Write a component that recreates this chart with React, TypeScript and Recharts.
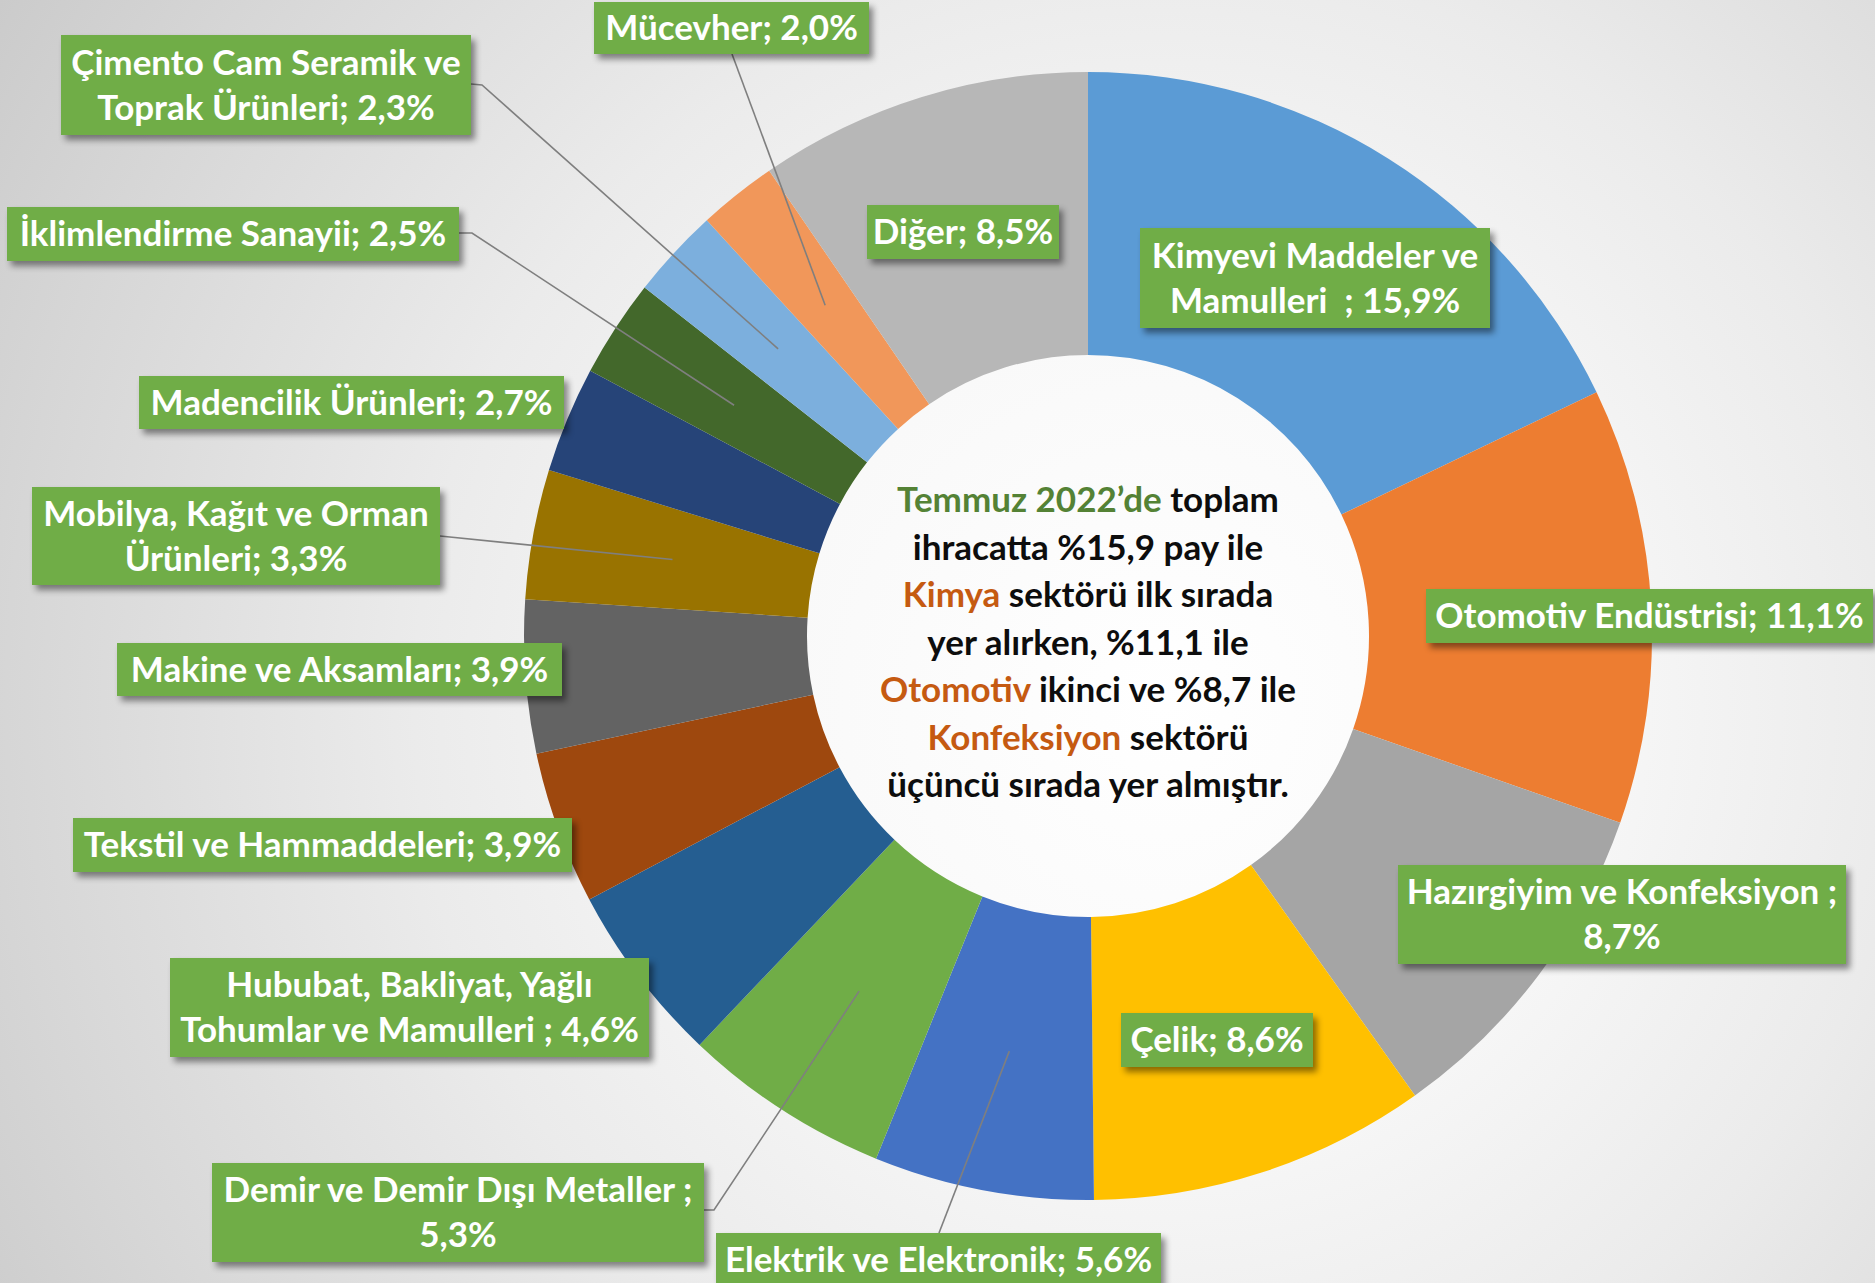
import React from "react";
import { PieChart, Pie, Cell, Label } from "recharts";

// sectors, clockwise from 12 o'clock
const SECTORS = [
  "Kimyevi Maddeler ve Mamulleri  ",
  "Otomotiv Endüstrisi",
  "Hazırgiyim ve Konfeksiyon ",
  "Çelik",
  "Elektrik ve Elektronik",
  "Demir ve Demir Dışı Metaller ",
  "Hububat, Bakliyat, Yağlı Tohumlar ve Mamulleri ",
  "Tekstil ve Hammaddeleri",
  "Makine ve Aksamları",
  "Mobilya, Kağıt ve Orman Ürünleri",
  "Madencilik Ürünleri",
  "İklimlendirme Sanayii",
  "Çimento Cam Seramik ve Toprak Ürünleri",
  "Mücevher",
  "Diğer",
];
const SHARES = [15.9, 11.1, 8.7, 8.6, 5.6, 5.3, 4.6, 3.9, 3.9, 3.3, 2.7, 2.5, 2.3, 2.0, 8.5];
const COLORS = [
  "#5B9BD5", "#ED7D31", "#A5A5A5", "#FFC000", "#4472C4",
  "#70AD47", "#255E91", "#9E480E", "#636363", "#997300",
  "#264478", "#43682B", "#7CAFDD", "#F1975A", "#B7B7B7",
];

// how many words go on the first line of each label (0 = one line)
const FIRST_LINE_WORDS = [3, 0, 4, 0, 0, 6, 3, 0, 0, 4, 0, 0, 4, 0, 0];

// label boxes [x, y, w, h]
const BOXES = [
  [1140, 228, 350, 100],
  [1426, 589, 447, 54],
  [1398, 865, 448, 99],
  [1121, 1013, 192, 54],
  [716, 1233, 445, 54],
  [212, 1163, 492, 99],
  [170, 958, 479, 99],
  [73, 818, 499, 54],
  [117, 643, 445, 53],
  [32, 487, 408, 98],
  [139, 376, 425, 53],
  [7, 207, 452, 54],
  [61, 35, 410, 100],
  [594, 2, 275, 52],
  [867, 205, 192, 54],
];

// leader line start (and elbow) points, ending in the middle of the slice
const LEADERS: (number[][] | null)[] = [
  null, null, null, null,
  [[939, 1233]],
  [[704, 1210], [714, 1210]],
  null, null, null,
  [[440, 536]],
  null,
  [[459, 233], [472, 233]],
  [[471, 84], [482, 85]],
  [[732, 54]],
  null,
];

const CENTER_LINES: [string, string][][] = [
  [["Temmuz 2022’de", "green"], [" toplam", "black"]],
  [["ihracatta %15,9 pay ile", "black"]],
  [["Kimya", "orange"], [" sektörü ilk sırada", "black"]],
  [["yer alırken, %11,1 ile", "black"]],
  [["Otomotiv", "orange"], [" ikinci ve %8,7 ile", "black"]],
  [["Konfeksiyon", "orange"], [" sektörü", "black"]],
  [["üçüncü sırada yer almıştır.", "black"]],
];
const INK: Record<string, string> = { green: "#548235", orange: "#C55A11", black: "#0d0d0d" };

const W = 1875;
const H = 1283;
const CX = 1088;
const CY = 636;
const FONT = "Lato, 'Open Sans', sans-serif";
const FS = 35;
const LINE = 45;

const data = SECTORS.map((name, i) => ({ name, value: SHARES[i] }));

const pct = (v: number) => v.toFixed(1).replace(".", ",") + "%";

function labelLines(i: number) {
  const words = `${SECTORS[i]}; ${pct(SHARES[i])}`.split(" ");
  const n = FIRST_LINE_WORDS[i];
  return n ? [words.slice(0, n).join(" "), words.slice(n).join(" ")] : [words.join(" ")];
}

function SliceLabel(props: any) {
  const { index, cx, cy, midAngle, innerRadius, outerRadius } = props;
  const [x, y, w, h] = BOXES[index];
  const lines = labelLines(index);
  const lead = LEADERS[index];
  let leader = null;
  if (lead) {
    const r = (innerRadius + outerRadius) / 2;
    const a = (-midAngle * Math.PI) / 180;
    const pts = [...lead, [cx + r * Math.cos(a), cy + r * Math.sin(a)]];
    leader = (
      <polyline
        points={pts.map((p) => p.join(",")).join(" ")}
        fill="none"
        stroke="#7f7f7f"
        strokeWidth={1.6}
      />
    );
  }
  const mid = y + h / 2;
  return (
    <g>
      {leader}
      <rect
        x={x}
        y={y}
        width={w}
        height={h}
        fill="#70AD47"
        style={{ filter: "drop-shadow(4px 5px 3px rgba(0,0,0,0.45))" }}
      />
      <text
        textAnchor="middle"
        fill="#ffffff"
        fontFamily={FONT}
        fontWeight={700}
        fontSize={FS}
        style={{ whiteSpace: "pre" }}
      >
        {lines.map((t, k) => (
          <tspan key={k} x={x + w / 2} y={mid + (k - (lines.length - 1) / 2) * LINE + 12}>
            {t}
          </tspan>
        ))}
      </text>
    </g>
  );
}

function CenterText(props: any) {
  const vb = props.viewBox || {};
  const cx = vb.cx ?? CX;
  const cy = vb.cy ?? CY;
  return (
    <text textAnchor="middle" fontFamily={FONT} fontWeight={700} fontSize={FS}>
      {CENTER_LINES.map((parts, k) => (
        <tspan key={k} x={cx} y={cy - 124 + k * 47.5}>
          {parts.map(([t, c], j) => (
            <tspan key={j} fill={INK[c]} style={{ whiteSpace: "pre" }}>
              {t}
            </tspan>
          ))}
        </tspan>
      ))}
    </text>
  );
}

export default function App() {
  return (
    <div
      style={{
        position: "absolute",
        left: 0,
        top: 0,
        width: W,
        height: H,
        overflow: "hidden",
        background:
          "radial-gradient(circle at 62% 55%, #ffffff 0%, #f9f9f9 28%, #ebebeb 55%, #d6d6d6 85%, #cbcbcb 100%)",
      }}
    >
      <style>{`.recharts-pie-sectors { filter: drop-shadow(5px 8px 9px rgba(0,0,0,0.38)); }`}</style>
      <PieChart width={W} height={H} margin={{ top: 0, right: 0, bottom: 0, left: 0 }}>
        <Pie
          data={data}
          dataKey="value"
          nameKey="name"
          cx={CX}
          cy={CY}
          innerRadius={281}
          outerRadius={564}
          startAngle={90}
          endAngle={-270}
          stroke="none"
          labelLine={false}
          label={(p: any) => <SliceLabel {...p} />}
          isAnimationActive={false}
        >
          {data.map((d, i) => (
            <Cell key={d.name} fill={COLORS[i]} />
          ))}
          <Label position="center" content={<CenterText />} />
        </Pie>
      </PieChart>
    </div>
  );
}
